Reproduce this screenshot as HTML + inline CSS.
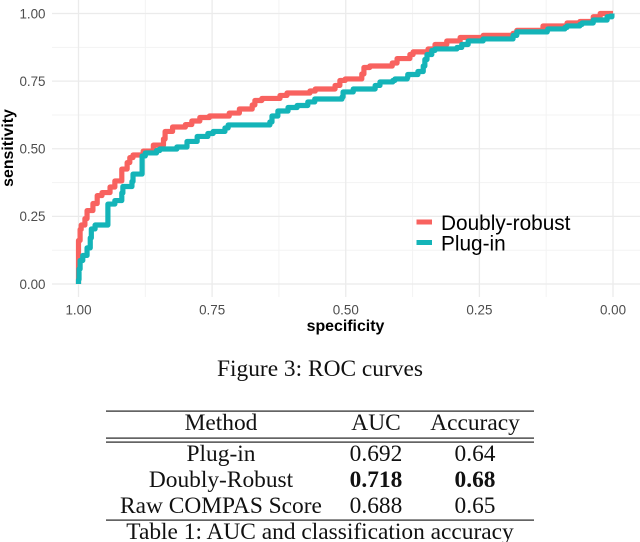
<!DOCTYPE html>
<html><head><meta charset="utf-8"><title>ROC curves</title>
<style>
html,body{margin:0;padding:0;background:#fff;width:640px;height:542px;overflow:hidden}
svg{display:block}
.tick{font:13.4px "Liberation Sans",sans-serif;fill:#4d4d4d}
.axt{font:bold 15.9px "Liberation Sans",sans-serif;fill:#000}
.leg{font:20.8px "Liberation Sans",sans-serif;fill:#000}
.ser{font-family:"Liberation Serif",serif;font-size:23.4px;fill:#111;text-anchor:middle}
.b{font-weight:bold}
</style></head>
<body>
<svg id="fig" width="640" height="542" viewBox="0 0 640 542" xmlns="http://www.w3.org/2000/svg">
<g id="grid"></g>
<g id="ticks"></g>
<g id="lines"></g>
<text class="axt" x="345.5" y="331" text-anchor="middle">specificity</text>
<text class="axt" transform="translate(13,148) rotate(-90)" text-anchor="middle">sensitivity</text>
<g>
<line x1="416.5" x2="432" y1="222" y2="222" stroke="#F8625F" stroke-width="5"/>
<text class="leg" x="441" y="230">Doubly-robust</text>
<line x1="416.5" x2="432" y1="242.5" y2="242.5" stroke="#14B4B8" stroke-width="5"/>
<text class="leg" x="441" y="250.5">Plug-in</text>
</g>
<text class="ser" x="320" y="376">Figure 3: ROC curves</text>
<g>
<rect x="106" y="410.5" width="428" height="1.2" fill="#222"/>
<rect x="106" y="437.5" width="428" height="1.2" fill="#222"/>
<rect x="106" y="441.5" width="428" height="1.2" fill="#222"/>
<rect x="106" y="519.5" width="428" height="1.2" fill="#222"/>
<text class="ser" x="221" y="430">Method</text>
<text class="ser" x="376" y="430">AUC</text>
<text class="ser" x="475" y="430">Accuracy</text>
<text class="ser" x="221" y="461">Plug-in</text>
<text class="ser" x="376" y="461">0.692</text>
<text class="ser" x="475" y="461">0.64</text>
<text class="ser" x="221" y="487">Doubly-Robust</text>
<text class="ser b" x="376" y="487">0.718</text>
<text class="ser b" x="475" y="487">0.68</text>
<text class="ser" x="221" y="513">Raw COMPAS Score</text>
<text class="ser" x="376" y="513">0.688</text>
<text class="ser" x="475" y="513">0.65</text>
<text class="ser" x="320" y="539">Table 1: AUC and classification accuracy</text>
</g>
</svg>
<script>
const majorTicks = [1, 0.75, 0.5, 0.25, 0];
const minorTicks = [0.875, 0.625, 0.375, 0.125];
const xTickLabels = ["1.00", "0.75", "0.50", "0.25", "0.00"];
const yTickLabels = ["1.00", "0.75", "0.50", "0.25", "0.00"];
const drSpec = [1,1,.997,.995,.988,.984,.973,.965,.956,.941,.932,.919,.919,.909,.904,.898,.879,.860,.841,.838,.824,.800,.788,.773,.755,.718,.699,.675,.670,.657,.623,.610,.567,.557,.520,.511,.501,.470,.466,.455,.413,.404,.380,.374,.346,.333,.311,.286,.243,.187,.180,.131,.086,.062,.037,.024,0];
const drSens = [0,.137,.185,.218,.218,.266,.277,.318,.336,.340,.377,.385,.410,.440,.458,.477,.477,.506,.521,.551,.577,.584,.595,.610,.621,.621,.643,.651,.673,.684,.688,.706,.706,.721,.721,.747,.758,.758,.795,.806,.806,.828,.839,.858,.858,.880,.891,.906,.917,.921,.932,.943,.965,.965,.976,1,1];
const piSpec = [1,.999,.997,.992,.984,.978,.976,.969,.945,.945,.932,.919,.917,.900,.898,.881,.881,.875,.854,.848,.816,.797,.778,.758,.748,.726,.720,.642,.638,.627,.608,.591,.571,.558,.507,.505,.486,.445,.436,.412,.408,.385,.384,.365,.355,.352,.348,.339,.333,.292,.283,.271,.243,.187,.180,.123,.122,.090,.086,.062,.058,.037,.037,.011,.002];
const piSens = [0,.033,.078,.096,.115,.152,.189,.218,.218,.292,.299,.318,.355,.366,.392,.421,.466,.481,.488,.499,.499,.514,.540,.551,.562,.566,.588,.588,.610,.632,.647,.658,.662,.684,.684,.699,.721,.721,.747,.747,.758,.758,.769,.780,.791,.821,.839,.858,.869,.869,.880,.891,.906,.906,.932,.932,.943,.943,.954,.954,.965,.965,.976,.976,1];

const NS = "http://www.w3.org/2000/svg";
const xScale = s => 78.5 + (1 - s) * 534.5;
const yScale = v => 284 - v * 270.5;
function mk(parent, tag, attrs, text) {
  const el = document.createElementNS(NS, tag);
  for (const k in attrs) el.setAttribute(k, attrs[k]);
  if (text !== undefined) el.textContent = text;
  parent.appendChild(el);
  return el;
}
const grid = document.getElementById("grid");
minorTicks.forEach(t => {
  const h = mk(grid, "line", {x1: 52, x2: 640, y1: yScale(t), y2: yScale(t), stroke: "#f3f3f3", "stroke-width": 1});
  
  
  const v = mk(grid, "line", {x1: xScale(t), x2: xScale(t), y1: 0, y2: 297, stroke: "#f3f3f3", "stroke-width": 1});
  
  
});
majorTicks.forEach(t => {
  const h = mk(grid, "line", {x1: 52, x2: 640, y1: yScale(t), y2: yScale(t), stroke: "#ebebeb", "stroke-width": 1.3});
  
  
  const v = mk(grid, "line", {x1: xScale(t), x2: xScale(t), y1: 0, y2: 297, stroke: "#ebebeb", "stroke-width": 1.3});
  
  
});
const ticks = document.getElementById("ticks");
majorTicks.forEach((t, i) => {
  const xl = mk(ticks, "text", {class: "tick", x: xScale(t), y: 314.5, "text-anchor": "middle"}, xTickLabels[i]);
  
  
  const yl = mk(ticks, "text", {class: "tick", x: 45.5, y: yScale(t) + 4.8, "text-anchor": "end"}, yTickLabels[i]);
  
  
});
function stepPath(spec, sens) {
  let d = "M" + xScale(spec[0]) + " " + yScale(sens[0]);
  for (let i = 1; i < spec.length; i++) {
    const x = xScale(spec[i]), y = yScale(sens[i]);
    const px = xScale(spec[i - 1]), py = yScale(sens[i - 1]);
    d += " L" + px + " " + (py + (y - py) / 2) + " L" + x + " " + (py + (y - py) / 2) + " L" + x + " " + y;
  }
  return d;
}
const lines = document.getElementById("lines");
const drLine = mk(lines, "path", {d: stepPath(drSpec, drSens), fill: "none", stroke: "#F8625F", "stroke-width": 5.2, "stroke-linejoin": "round"});


const piLine = mk(lines, "path", {d: stepPath(piSpec, piSens), fill: "none", stroke: "#14B4B8", "stroke-width": 5.2, "stroke-linejoin": "round"});


</script>
</body></html>
